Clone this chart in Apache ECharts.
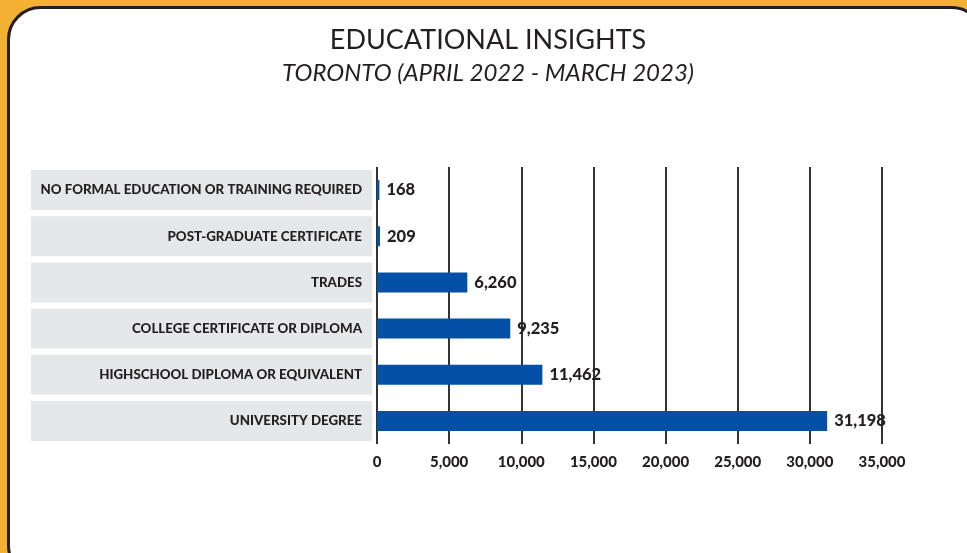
<!DOCTYPE html>
<html>
<head>
<meta charset="utf-8">
<script src="https://cdn.jsdelivr.net/npm/echarts@6/dist/echarts.min.js"></script>
<style>
  html, body { margin: 0; padding: 0; background: #F3B133; }
  #main { width: 967px; height: 553px; }
</style>
</head>
<body>
<div id="main"></div>
<script>
// categories, bottom to top
const categories = [
  'UNIVERSITY DEGREE',
  'HIGHSCHOOL DIPLOMA OR EQUIVALENT',
  'COLLEGE CERTIFICATE OR DIPLOMA',
  'TRADES',
  'POST-GRADUATE CERTIFICATE',
  'NO FORMAL EDUCATION OR TRAINING REQUIRED'
]
const values = [31198, 11462, 9235, 6260, 209, 168]
const xTicks = [0, 5000, 10000, 15000, 20000, 25000, 30000, 35000]

const fontFamily = 'Lato, "Open Sans", sans-serif'
const fmt = v => v.toLocaleString('en-US')

const chart = echarts.init(document.getElementById('main'))

chart.setOption({
  backgroundColor: '#F3B133',
  animation: false,
  graphic: [{
    type: 'rect',
    z: -10,
    shape: { x: 8.5, y: 7.5, width: 975, height: 570, r: 32 },
    style: { fill: '#fff', stroke: '#231F20', lineWidth: 3 }
  }],
  title: {
    text: 'EDUCATIONAL INSIGHTS',
    subtext: 'TORONTO (APRIL 2022 - MARCH 2023)',
    left: 483,
    textAlign: 'center',
    top: 22,
    itemGap: 7,
    textStyle: { fontFamily, fontSize: 27, fontWeight: 'normal', color: '#231F20' },
    subtextStyle: { fontFamily, fontSize: 24, fontStyle: 'italic', color: '#231F20' }
  },
  grid: { left: 377, right: 85, top: 167, height: 277 },
  xAxis: {
    type: 'value',
    min: 0,
    max: 35000,
    interval: 5000,
    axisLine: { show: false },
    axisTick: { show: false },
    splitLine: { show: true, lineStyle: { color: '#333', width: 2 } },
    axisLabel: {
      margin: 11,
      fontFamily,
      fontSize: 15,
      fontWeight: 900,
      color: '#231F20',
      formatter: v => xTicks.includes(v) ? fmt(v) : ''
    }
  },
  yAxis: {
    type: 'category',
    data: categories,
    axisLine: { show: false },
    axisTick: { show: false },
    axisLabel: {
      margin: 5,
      width: 331,
      height: 40,
      lineHeight: 40,
      align: 'right',
      padding: [0, 10, 0, 0],
      backgroundColor: '#E6E7E8',
      fontFamily,
      fontSize: 13.3,
      fontWeight: 900,
      color: '#231F20'
    }
  },
  series: [{
    type: 'bar',
    data: values,
    barWidth: 20,
    itemStyle: { color: '#0450A6' },
    label: {
      show: true,
      position: 'right',
      distance: 7,
      fontFamily,
      fontSize: 16.5,
      fontWeight: 900,
      color: '#231F20',
      formatter: p => fmt(p.value)
    }
  }]
})
</script>
</body>
</html>
